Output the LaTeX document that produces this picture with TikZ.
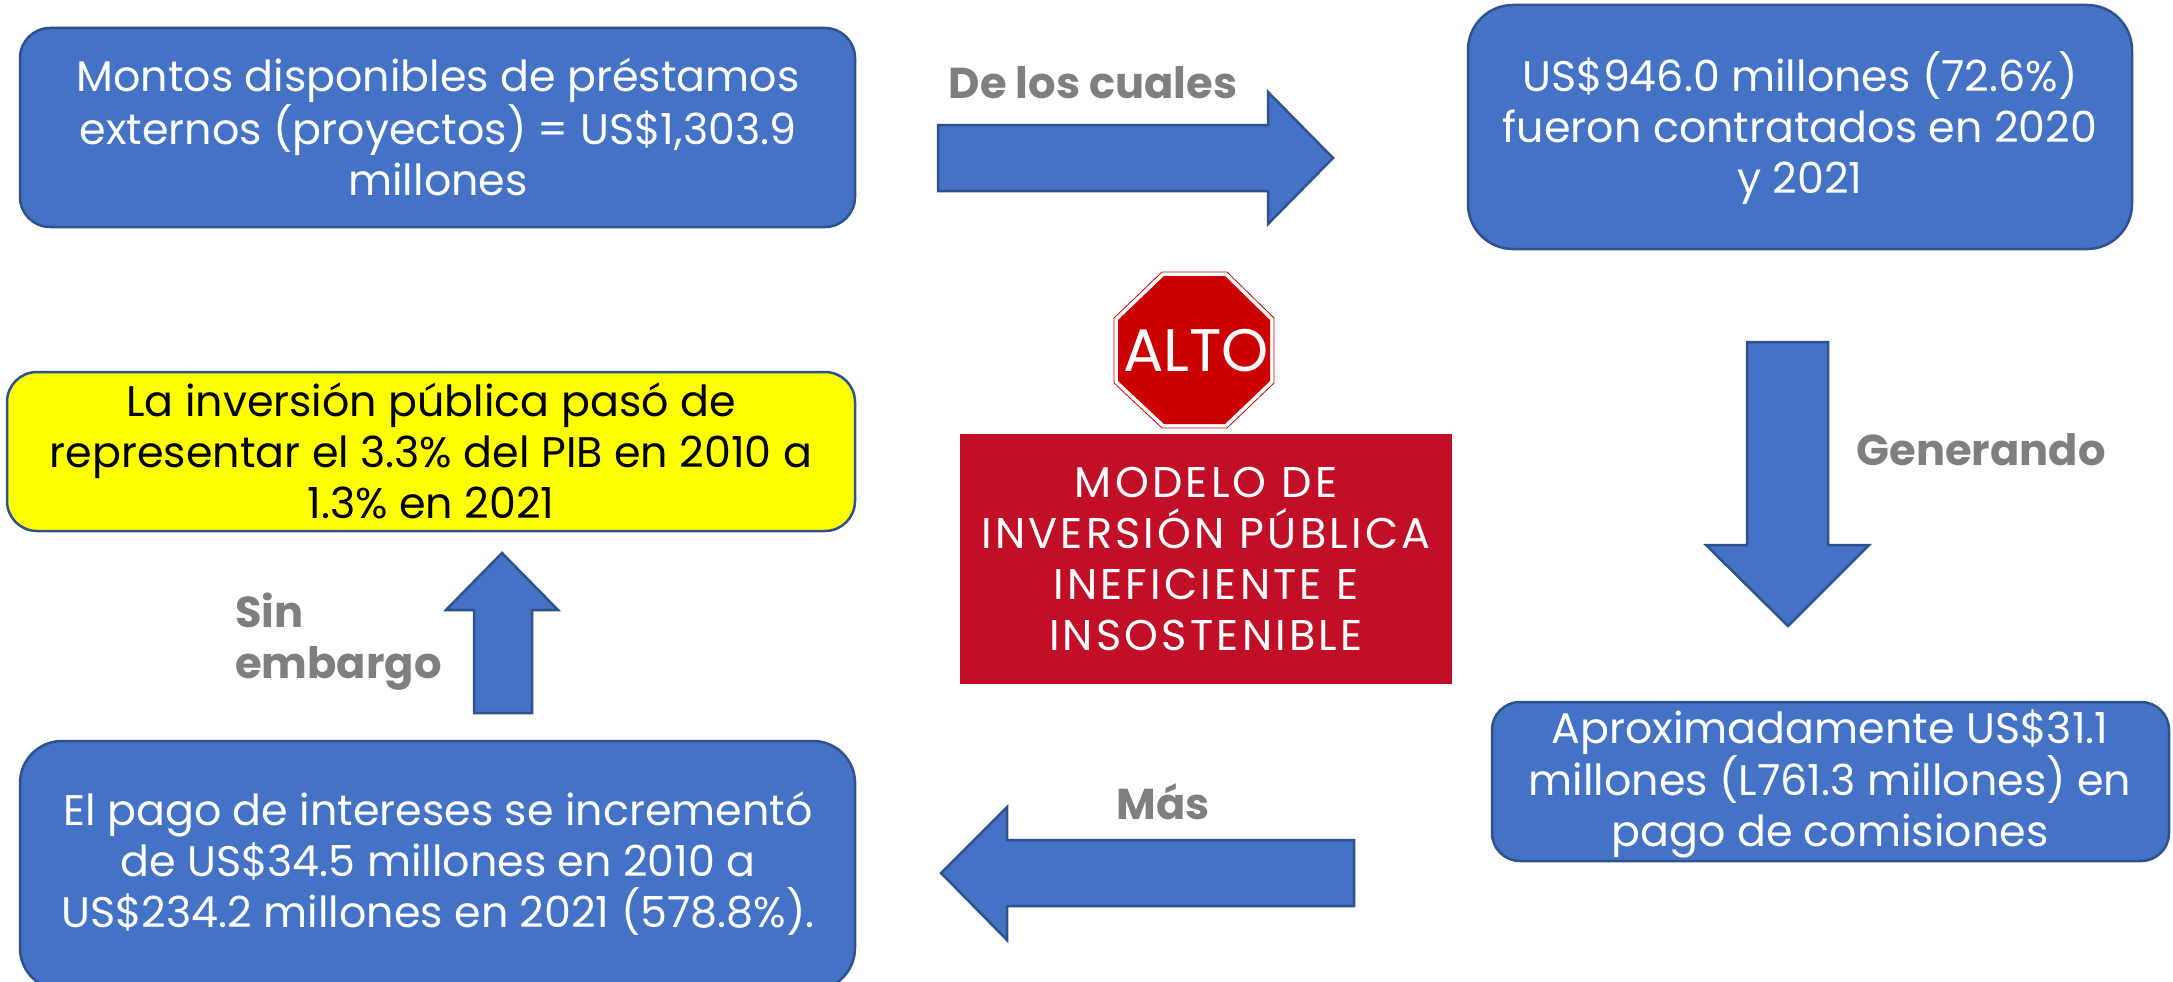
\documentclass[tikz,border=0pt]{standalone}
\usepackage{fontspec}
\setmainfont{Poppins}[BoldFont={Poppins Bold}]
\usetikzlibrary{shapes.geometric}
\definecolor{boxblue}{HTML}{4472C4}
\definecolor{edgeblue}{HTML}{2F528F}
\definecolor{signred}{HTML}{CC0000}
\definecolor{panelred}{HTML}{C10F27}
\definecolor{labelgray}{HTML}{7F7F7F}
\definecolor{pureyellow}{HTML}{FFFF00}
\tikzset{
  x=1pt,y=-1pt,
  txt/.style={font=\fontsize{42.8}{51}\selectfont,align=center,inner sep=0pt},
  bluetxt/.style={txt,text=white},
  card/.style={fill=boxblue,draw=edgeblue,line width=2.5pt},
  blockarrow/.style={fill=boxblue,draw=edgeblue,line width=2.5pt,miter limit=10},
  lbl/.style={font=\fontsize{43.2}{51}\bfseries\selectfont,text=labelgray,inner sep=0pt},
}
\begin{document}
\begin{tikzpicture}
\useasboundingbox (0,0) rectangle (2173,982);
\clip (0,0) rectangle (2173,982);
% rounded boxes
\draw[card,rounded corners=30] (20,28) rectangle (855,227);
\node[bluetxt] (monto) at (438,127) {Montos disponibles de préstamos\\externos (proyectos) = US\$1,303.9\\millones};
\draw[card,rounded corners=45] (1468,5) rectangle (2132,249);
\node[bluetxt] (contrat) at (1800,128) {US\$946.0 millones (72.6\%)\\fueron contratados en 2020\\y 2021};
\draw[card,fill=pureyellow,rounded corners=30] (7,372) rectangle (855,531);
\node[txt,text=black] (inver) at (431,451) {La inversión pública pasó de\\representar el 3.3\% del PIB en 2010 a\\1.3\% en 2021};
\draw[card,rounded corners=42] (20,741) rectangle (855,990);
\node[bluetxt] (pago) at (438,864) {El pago de intereses se incrementó\\de US\$34.5 millones en 2010 a\\US\$234.2 millones en 2021 (578.8\%).};
\draw[card,rounded corners=28] (1492,702) rectangle (2169,861);
\node[bluetxt] (comis) at (1830,784) {Aproximadamente US\$31.1\\millones (L761.3 millones) en\\pago de comisiones};
% block arrows
\draw[blockarrow] (938,125) -- (1268,125) -- (1268,92) -- (1333,158) -- (1268,224) -- (1268,191) -- (938,191) -- cycle;
\draw[blockarrow] (1747,342) -- (1828,342) -- (1828,545) -- (1869,545) -- (1788,626) -- (1706,545) -- (1747,545) -- cycle;
\draw[blockarrow] (1354,840) -- (1007,840) -- (1007,807) -- (941,873) -- (1007,940) -- (1007,906) -- (1354,906) -- cycle;
\draw[blockarrow] (474,713) -- (474,610) -- (446,610) -- (502,553) -- (558,610) -- (532,610) -- (532,713) -- cycle;
% labels
\node[lbl,anchor=center] (decuales) at (1093,83) {De los cuales};
\node[lbl,anchor=center] (generando) at (1981,450) {Generando};
\node[lbl,anchor=center] (mas) at (1163,802) {Más};
\node[lbl,align=left,anchor=west] (sin) at (235,642) {Sin\\embargo};
% stop sign
\fill[white,draw=signred,line width=0.8pt] (1162,272) -- (1227,272) -- (1274,318) -- (1274,383) -- (1227,428) -- (1162,428) -- (1114,383) -- (1114,318) -- cycle;
\fill[signred] (1164,276) -- (1225,276) -- (1270,320) -- (1270,381) -- (1225,424) -- (1164,424) -- (1118,381) -- (1118,320) -- cycle;
\node[font=\fontsize{60}{64}\selectfont,text=white,inner sep=0pt] (alto) at (1196,351) {ALTO};
% red panel
\node[fill=panelred,text=white,minimum width=492pt,minimum height=250pt,inner sep=0pt,align=center,font=\addfontfeature{LetterSpace=7.5}\fontsize{43}{51}\selectfont] (modelo) at (1206,559) {MODELO DE\\INVERSIÓN PÚBLICA\\INEFICIENTE E\\INSOSTENIBLE};
\end{tikzpicture}
\end{document}
